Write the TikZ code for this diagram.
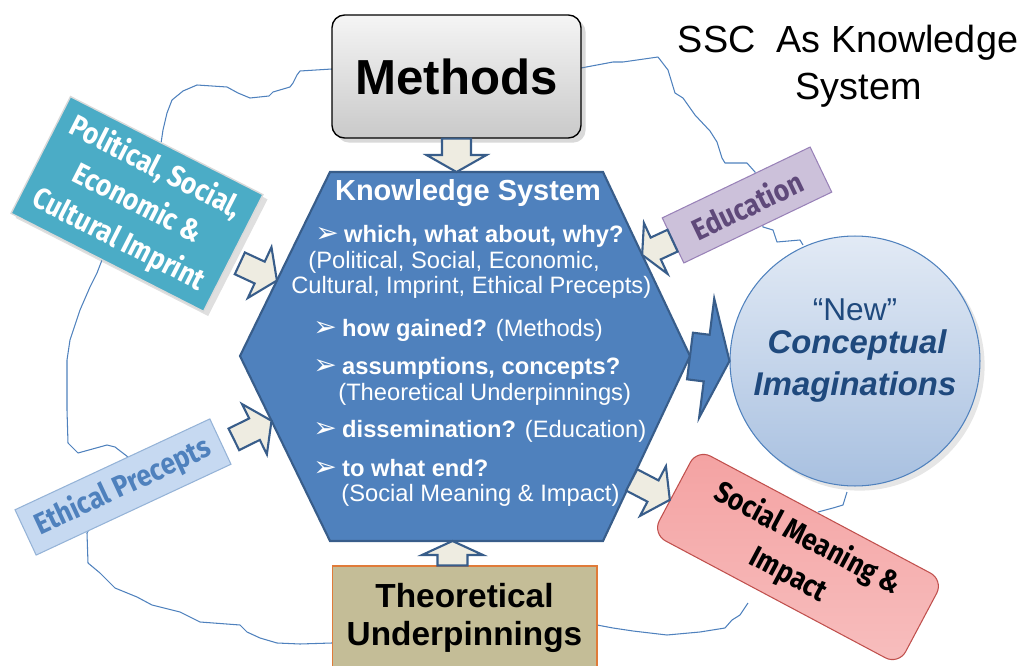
\documentclass[tikz,border=0pt]{standalone}
\usepackage{fontspec}
\setmainfont{Liberation Sans}
\newfontfamily\boxfont[FakeStretch=0.88]{Fira Sans}
\newfontfamily\symfont{DejaVu Sans}
\usetikzlibrary{calc,positioning,shadows}

\definecolor{ksblue}{HTML}{4F81BD}
\definecolor{ksedge}{HTML}{385D8A}
\definecolor{arrcream}{HTML}{EEECE1}
\definecolor{polcyan}{HTML}{4BACC6}
\definecolor{ethfill}{HTML}{C6D9F1}
\definecolor{ethedge}{HTML}{95B3D7}
\definecolor{edufill}{HTML}{CCC1DA}
\definecolor{eduedge}{HTML}{9982B8}
\definecolor{edutext}{HTML}{5F497A}
\definecolor{socfill}{HTML}{F4A2A2}
\definecolor{socedge}{HTML}{C0504D}
\definecolor{theofill}{HTML}{C4BD97}
\definecolor{theoedge}{HTML}{E07B39}
\definecolor{ideatop}{HTML}{E2EAF5}
\definecolor{ideabot}{HTML}{A8C0E0}
\definecolor{ideatext}{HTML}{1F497D}

\newcommand\bul{{\symfont\fontsize{16}{16}\selectfont ➢}\hspace{3pt}}

\tikzset{wiggle/.style={
            draw=ksblue,
            line width=0.6pt,
            line join=round
        },
        hexa/.style={
            fill=ksblue,
            draw=ksedge,
            line width=1.2pt
        },
        blockarr/.style={
            fill=arrcream,
            draw=ksedge,
            line width=1.2pt
        },
        bigarr/.style={
            fill=ksblue,
            draw=ksedge
        },
        sidebox/.style={
            inner sep=0pt,
            align=center,
            font=\boxfont\bfseries\fontsize{17}{23}\selectfont
        },
        polbox/.style={
            sidebox,
            fill=polcyan,
            draw=white!85!black,
            line width=0.8pt,
            text=white,
            minimum width=4.32cm,
            minimum height=2.62cm,
            drop shadow={opacity=0.25}
        },
        ethbox/.style={
            sidebox,
            fill=ethfill,
            draw=ethedge,
            line width=0.6pt,
            text=ksblue,
            minimum width=4.3cm,
            minimum height=1cm
        },
        edubox/.style={
            sidebox,
            fill=edufill,
            draw=eduedge,
            line width=0.6pt,
            text=edutext,
            minimum width=3.28cm,
            minimum height=1cm
        },
        socbox/.style={
            sidebox,
            rounded corners=0.3cm,
            top color=socfill,
            middle color=socfill,
            bottom color=socfill!70!white,
            draw=socedge,
            line width=0.6pt,
            text=black,
            minimum width=5.58cm,
            minimum height=1.92cm
        },
        methbox/.style={
            rounded corners=0.25cm,
            top color=gray!8,
            bottom color=gray!42,
            draw=black,
            line width=0.8pt,
            minimum width=4.98cm,
            minimum height=2.46cm,
            font=\bfseries\fontsize{28}{32}\selectfont,
            drop shadow={opacity=0.3}
        },
        theobox/.style={
            fill=theofill,
            draw=theoedge,
            line width=0.6pt,
            minimum width=5.3cm,
            minimum height=2.08cm,
            align=center,
            font=\bfseries\fontsize{19}{21.6}\selectfont
        },
        ideacircle/.style={
            circle,
            top color=ideatop,
            bottom color=ideabot,
            draw=ksblue,
            line width=0.6pt,
            minimum size=5cm,
            drop shadow={opacity=0.2}
        },
        ideaword/.style={
            anchor=base,
            inner sep=0pt,
            text=ideatext,
            font=\bfseries\itshape\fontsize{18.7}{22}\selectfont
        },
        ksline/.style={
            anchor=base west,
            inner sep=0pt,
            text=white,
            font=\fontsize{13.5}{16}\selectfont
        }
    }

% block arrow from #2 to #3: shaft width #4, head width #5, head length #6
\newcommand\blockarrow[6][]{%
    \path let \p1=($(#3)-(#2)$) in \pgfextra{%
        \pgfmathsetmacro\arrang{atan2(\y1,\x1)}\xdef\arrangle{\arrang}%
        \pgfmathsetmacro\arrl{veclen(\x1,\y1)/0.569055}\xdef\arrlen{\arrl}};
    \begin{scope}[shift={(#2)},rotate=\arrangle]
        \draw[blockarr,#1] (0,#4/2) -- (\arrlen-#6,#4/2) -- (\arrlen-#6,#5/2)
            -- (\arrlen,0) -- (\arrlen-#6,-#5/2) -- (\arrlen-#6,-#4/2) -- (0,-#4/2) -- cycle;
    \end{scope}}

\begin{document}
\begin{tikzpicture}[x=0.02cm,y=-0.02cm]
        \useasboundingbox (0,0) rectangle (1019,666);

        % hand drawn loops behind everything
        \draw[wiggle] (332,69) -- (300,71) -- (297,75) -- (293,83) -- (290,87) -- (273,92)
            -- (269,96) -- (250,98) -- (238,93) -- (227,87) -- (197,85) -- (183,91)
            -- (172,100) -- (167,113) -- (163,130) -- (160,150) -- (102,260) -- (97,273)
            -- (90,287) -- (80,310) -- (70,340) -- (67,360) -- (67,410) -- (68,443)
            -- (78,453) -- (107,445) -- (115,447) -- (128,457) -- (87,533) -- (88,563)
            -- (100,573) -- (115,588) -- (137,597) -- (152,605) -- (180,612) -- (200,622)
            -- (240,625) -- (247,632) -- (260,638) -- (277,643) -- (300,644) -- (332,643);
        \draw[wiggle] (581,68) -- (613,62) -- (623,62) -- (658,57) -- (668,70) -- (675,93)
            -- (683,98) -- (695,115) -- (710,131) -- (717,142) -- (722,158) -- (725,163)
            -- (747,163) -- (755,172) -- (763,227) -- (773,230) -- (777,242) -- (800,240)
            -- (803,245);
        \draw[wiggle] (847,492) -- (843,505) -- (833,508) -- (818,512);
        \draw[wiggle] (748,603) -- (740,615) -- (732,620) -- (725,628) -- (700,632)
            -- (667,635) -- (633,631) -- (613,628) -- (597,625);

        \node[anchor=center, align=center, font=\fontsize{21.5}{26.7}\selectfont] (title) at (848,66) {SSC\ \ As Knowledge\\\hspace*{12pt}System};

        \node[methbox] (methods) at (456.5,76.5) {Methods};
        \node[theobox] (theo) at (464.5,618) {Theoretical\\Underpinnings};
        \node[polbox, rotate=-27] (pol) at (137,204) {Political, Social,\\Economic \&\\Cultural Imprint};
        \node[ethbox, rotate=25] (eth) at (123,487) {Ethical Precepts};
        \node[edubox, rotate=25.6] (edu) at (747,205) {Education};
        \node[socbox, rotate=-28] (soc) at (798,557) {Social Meaning \&\\Impact};
        \node[ideacircle] (idea) at (855,361) {};
        \node[ideaword, font=\fontsize{18}{22}\selectfont] (idea-new) at (855,320) {“New”};
        \node[ideaword] (idea-c) at (857,353) {Conceptual};
        \node[ideaword] (idea-i) at (855,395) {Imaginations};

        % the knowledge system hexagon
        \coordinate (hx-tl) at (330,172);
        \coordinate (hx-tr) at (603,172);
        \coordinate (hx-r) at (690,356);
        \coordinate (hx-br) at (603,541);
        \coordinate (hx-bl) at (330,541);
        \coordinate (hx-l) at (240,356);
        \draw[hexa] (hx-tl) -- (hx-tr) -- (hx-r) -- (hx-br) -- (hx-bl) -- (hx-l) -- cycle;

        \node[anchor=base, inner sep=0pt, text=white, font=\bfseries\fontsize{16.5}{20}\selectfont] (ks-title) at (468,200) {Knowledge System};
        \node[ksline] (ks-q1) at (315,242) {\bul\textbf{which, what about, why?}};
        \node[ksline] (ks-q1a) at (308,268) {(Political, Social, Economic,};
        \node[ksline] (ks-q1b) at (291,293) {Cultural, Imprint, Ethical Precepts)};
        \node[ksline] (ks-q2) at (313,336) {\bul\textbf{how gained?} (Methods)};
        \node[ksline] (ks-q3) at (313,374) {\bul\textbf{assumptions, concepts?}};
        \node[ksline] (ks-q3a) at (338,400) {(Theoretical Underpinnings)};
        \node[ksline] (ks-q4) at (313,437) {\bul\textbf{dissemination?} (Education)};
        \node[ksline] (ks-q5) at (313,476) {\bul\textbf{to what end?}};
        \node[ksline] (ks-q5a) at (341,501) {(Social Meaning \& Impact)};

        % arrow ends
        \coordinate (hx-n) at (methods.south |- hx-tl);
        \coordinate (theo-out) at ($(theo.north)+(-12,0)$);
        \coordinate (hx-s) at (theo-out |- hx-bl);
        \coordinate (pol-out) at ($(pol.east)+(6,10)$);
        \coordinate (pol-in) at ($(hx-l)!0.41!(hx-tl)$);
        \coordinate (eth-out) at ($(eth.east)+(13,-2)$);
        \coordinate (eth-in) at ($(hx-l)!0.35!(hx-bl)$);
        \coordinate (edu-in) at ($(hx-tr)!0.45!(hx-r)$);
        \coordinate (soc-out) at ($(hx-r)!0.67!(hx-br)$);
        \coordinate (soc-in) at ($(soc.north west)!0.6!(soc.south west)$);

        \blockarrow{methods.south}{hx-n}{29}{60}{17}
        \blockarrow{theo-out}{hx-s}{30}{61}{14}
        \blockarrow{pol-out}{pol-in}{24}{56}{19}
        \blockarrow{eth-out}{eth-in}{24}{56}{19}
        \blockarrow{edu.west}{edu-in}{24}{56}{15}
        \blockarrow{soc-out}{soc-in}{24}{56}{19}
        \blockarrow[bigarr]{hx-r}{idea.west}{47}{120}{23}

    \end{tikzpicture}
\end{document}
